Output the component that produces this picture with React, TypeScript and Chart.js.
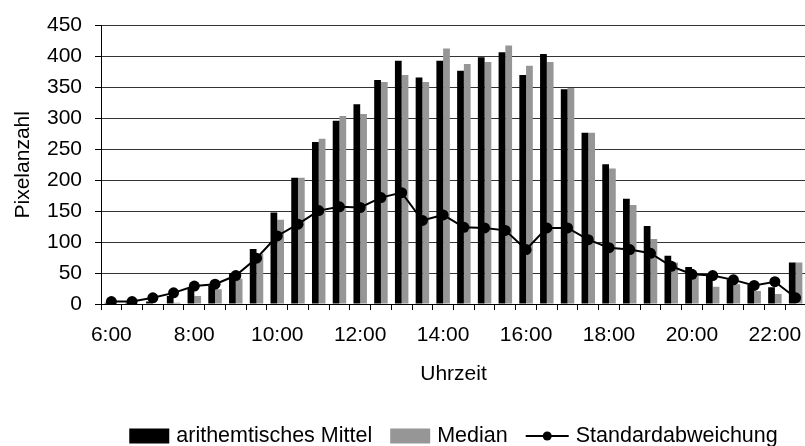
import { useEffect, useRef } from 'react';
import { Chart, registerables } from 'chart.js';

Chart.register(...registerables);

// Half-hour slots from 6:00 to 22:30
const times = [
  '6:00', '6:30', '7:00', '7:30', '8:00', '8:30', '9:00', '9:30',
  '10:00', '10:30', '11:00', '11:30', '12:00', '12:30', '13:00', '13:30',
  '14:00', '14:30', '15:00', '15:30', '16:00', '16:30', '17:00', '17:30',
  '18:00', '18:30', '19:00', '19:30', '20:00', '20:30', '21:00', '21:30',
  '22:00', '22:30',
];

// Only these times carry a visible axis label
const labelledTimes = ['6:00', '8:00', '10:00', '12:00', '14:00', '16:00', '18:00', '20:00', '22:00'];

const meanValues = [
  2, 2, 4, 13, 25, 30, 50, 89,
  148, 204, 262, 296, 323, 362, 393, 366,
  393, 377, 399, 407, 370, 404, 347, 277,
  226, 170, 126, 78, 60, 48, 40, 31,
  27, 67,
];

const medianValues = [
  0, 0, 1, 2, 13, 24, 41, 81,
  136, 204, 267, 304, 307, 359, 370, 359,
  413, 388, 391, 418, 385, 391, 349, 277,
  219, 160, 105, 67, 46, 28, 32, 21,
  16, 67,
];

const stdDevValues = [
  4, 4, 10, 18, 29, 32, 46, 74,
  110, 129, 151, 157, 156, 172, 180, 135,
  144, 124, 123, 119, 88, 123, 123, 104,
  91, 88, 82, 61, 48, 46, 39, 30,
  36, 10,
];

const FONT_FAMILY = '"Liberation Sans", Arial, sans-serif';
const FONT_SIZE = 21;
const LEGEND_FONT_SIZE = 21.5;
const MEDIAN_GREY = '#969696';

// Legend drawn underneath the plot: filled boxes for bars, line with dot for the line series
const bottomLegend = {
  id: 'bottomLegend',
  afterDraw(chart: any) {
    const { ctx, chartArea } = chart;
    const datasets = chart.data.datasets;
    const midY = 436;
    const textGap = 7;
    const itemGap = 18;
    ctx.save();
    ctx.font = `${LEGEND_FONT_SIZE}px ${FONT_FAMILY}`;
    ctx.textBaseline = 'middle';
    ctx.textAlign = 'left';

    const items = datasets.map((ds: any) => {
      const symbolWidth = ds.type === 'line' ? 43 : 40;
      const textWidth = ctx.measureText(ds.label).width;
      return { ds, symbolWidth, textWidth, width: symbolWidth + textGap + textWidth };
    });
    const total = items.reduce((s: number, it: any) => s + it.width, 0) + itemGap * (items.length - 1);
    let x = (chartArea.left + chartArea.right) / 2 - total / 2;

    for (const it of items) {
      const { ds } = it;
      if (ds.type === 'line') {
        ctx.strokeStyle = ds.borderColor;
        ctx.lineWidth = 2;
        ctx.beginPath();
        ctx.moveTo(x, midY);
        ctx.lineTo(x + it.symbolWidth, midY);
        ctx.stroke();
        ctx.fillStyle = ds.pointBackgroundColor;
        ctx.beginPath();
        ctx.arc(x + it.symbolWidth / 2, midY, 4.5, 0, Math.PI * 2);
        ctx.fill();
      } else {
        ctx.fillStyle = ds.backgroundColor;
        ctx.fillRect(x, midY - 7.5, it.symbolWidth, 15);
      }
      ctx.fillStyle = '#000';
      ctx.fillText(ds.label, x + it.symbolWidth + textGap, midY);
      x += it.width + itemGap;
    }
    ctx.restore();
  },
};

export default function App() {
  const canvasRef = useRef<HTMLCanvasElement | null>(null);

  useEffect(() => {
    const canvas = canvasRef.current;
    if (!canvas) return;

    const chart = new Chart(canvas, {
      type: 'bar',
      data: {
        labels: times,
        datasets: [
          {
            type: 'bar',
            label: 'arithemtisches Mittel',
            data: meanValues,
            backgroundColor: '#000',
            categoryPercentage: 0.65,
            barPercentage: 1,
            order: 1,
          },
          {
            type: 'bar',
            label: 'Median',
            data: medianValues,
            backgroundColor: MEDIAN_GREY,
            categoryPercentage: 0.65,
            barPercentage: 1,
            order: 1,
          },
          {
            type: 'line',
            label: 'Standardabweichung',
            data: stdDevValues,
            borderColor: '#000',
            backgroundColor: '#000',
            pointBackgroundColor: '#000',
            pointBorderColor: '#000',
            borderWidth: 2,
            pointRadius: 5.5,
            pointBorderWidth: 0,
            tension: 0,
            order: 0,
          } as any,
        ],
      },
      options: {
        responsive: false,
        animation: false,
        devicePixelRatio: 1,
        layout: { padding: { top: 21, bottom: 42, left: 0, right: 6 } },
        plugins: {
          legend: { display: false },
          tooltip: { enabled: false },
        },
        scales: {
          x: {
            offset: true,
            grid: {
              offset: true,
              drawOnChartArea: false,
              drawTicks: true,
              tickLength: 6,
              tickColor: '#000',
              tickWidth: 1,
            },
            border: { display: true, color: '#000', width: 1 },
            ticks: {
              autoSkip: false,
              maxRotation: 0,
              minRotation: 0,
              padding: 13,
              color: '#000',
              font: { family: FONT_FAMILY, size: FONT_SIZE },
              callback: (_v: any, i: number) => (labelledTimes.includes(times[i]) ? times[i] : ''),
            },
            title: {
              display: true,
              text: 'Uhrzeit',
              color: '#000',
              font: { family: FONT_FAMILY, size: FONT_SIZE },
              padding: { top: 0, bottom: 17 },
            },
            afterFit: (scale: any) => {
              scale.height = 100;
            },
          },
          y: {
            min: 0,
            max: 450,
            ticks: {
              stepSize: 50,
              padding: 13,
              color: '#000',
              font: { family: FONT_FAMILY, size: FONT_SIZE },
            },
            grid: {
              color: '#333',
              lineWidth: 1,
              tickLength: 6,
              tickColor: '#000',
            },
            border: { display: true, color: '#000', width: 1 },
            title: {
              display: true,
              text: 'Pixelanzahl',
              color: '#000',
              font: { family: FONT_FAMILY, size: FONT_SIZE },
              padding: { top: 11, bottom: 0 },
            },
            afterFit: (scale: any) => {
              scale.width = 101;
            },
          },
        },
      },
      plugins: [bottomLegend],
    });

    return () => chart.destroy();
  }, []);

  return (
    <div
      style={{
        position: 'fixed',
        left: 0,
        top: 0,
        width: 805,
        height: 446,
        overflow: 'hidden',
        background: '#fff',
      }}
    >
      <canvas ref={canvasRef} width={812} height={446} style={{ display: 'block' }} />
    </div>
  );
}
